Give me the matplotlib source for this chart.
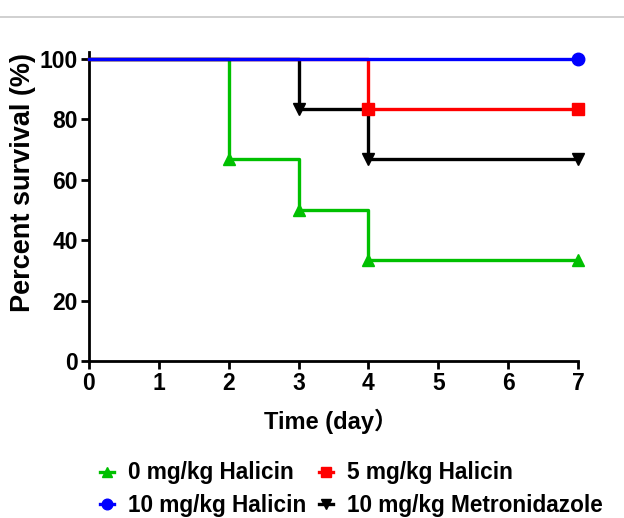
import matplotlib
matplotlib.use('Agg')
import matplotlib.pyplot as plt
from matplotlib.lines import Line2D

plt.rcParams['font.family'] = ['Liberation Sans', 'Noto Sans CJK SC', 'DejaVu Sans']
plt.rcParams['font.weight'] = 'bold'

days_0 = [0, 2, 3, 4, 7]
surv_0 = [100, 66.7, 50, 33.3, 33.3]
days_5 = [0, 4, 7]
surv_5 = [100, 83.3, 83.3]
days_10 = [0, 7]
surv_10 = [100, 100]
days_met = [0, 3, 4, 7]
surv_met = [100, 83.3, 66.7, 66.7]

fig = plt.figure(figsize=(6.24, 5.18), dpi=100)
ax = fig.add_axes([0.1426, 0.303, 0.7837, 0.5969])

lw = 2.4
ms = 9
g, = ax.plot(days_0, surv_0, color='#00c000', lw=lw, drawstyle='steps-post',
             marker='^', ms=ms, markevery=[1, 2, 3, 4], zorder=3, clip_on=False)
k, = ax.plot(days_met, surv_met, color='black', lw=lw, drawstyle='steps-post',
             marker='v', ms=ms, markevery=[1, 2, 3], zorder=4, clip_on=False)
r, = ax.plot(days_5, surv_5, color='#ff0000', lw=lw, drawstyle='steps-post',
             marker='s', ms=ms, markevery=[1, 2], zorder=5, clip_on=False)
b, = ax.plot(days_10, surv_10, color='#0000ff', lw=lw, drawstyle='steps-post',
             marker='o', ms=ms, markevery=[1], zorder=6, clip_on=False)

ax.set_xlim(0, 7)
ax.set_ylim(0, 102.3)
ax.set_xticks(range(0, 8))
ax.set_yticks([0, 20, 40, 60, 80, 100])
ax.spines['top'].set_visible(False)
ax.spines['right'].set_visible(False)
ax.spines['left'].set_linewidth(2)
ax.spines['bottom'].set_linewidth(2)
ax.spines['bottom'].set_bounds(0, 7)
ax.tick_params(width=2, length=6, labelsize=16.5, pad=2)
for t in ax.get_xticklabels() + ax.get_yticklabels():
    t.set_fontweight('bold')

ax.set_xlabel('Time (day）', fontsize=17, fontweight='bold')
ax.xaxis.set_label_coords(0.495, -0.153)
ax.set_ylabel('Percent survival (%)', fontsize=19.5, fontweight='bold')
ax.yaxis.set_label_coords(-0.108, 0.579)

fig.legend([g, b, r, k],
           ['0 mg/kg Halicin', '10 mg/kg Halicin', '5 mg/kg Halicin', '10 mg/kg Metronidazole'],
           ncol=2, loc='center', bbox_to_anchor=(0.563, 0.056), frameon=False,
           prop={'size': 16.3, 'weight': 'bold'}, handlelength=0.6, handletextpad=0.6,
           columnspacing=0.6, labelspacing=0.4, markerscale=0.85)

fig.add_artist(Line2D([0, 1], [1 - 17 / 518, 1 - 17 / 518], color='#c8c8c8', lw=1.2))

fig.savefig('out.png', dpi=100)
